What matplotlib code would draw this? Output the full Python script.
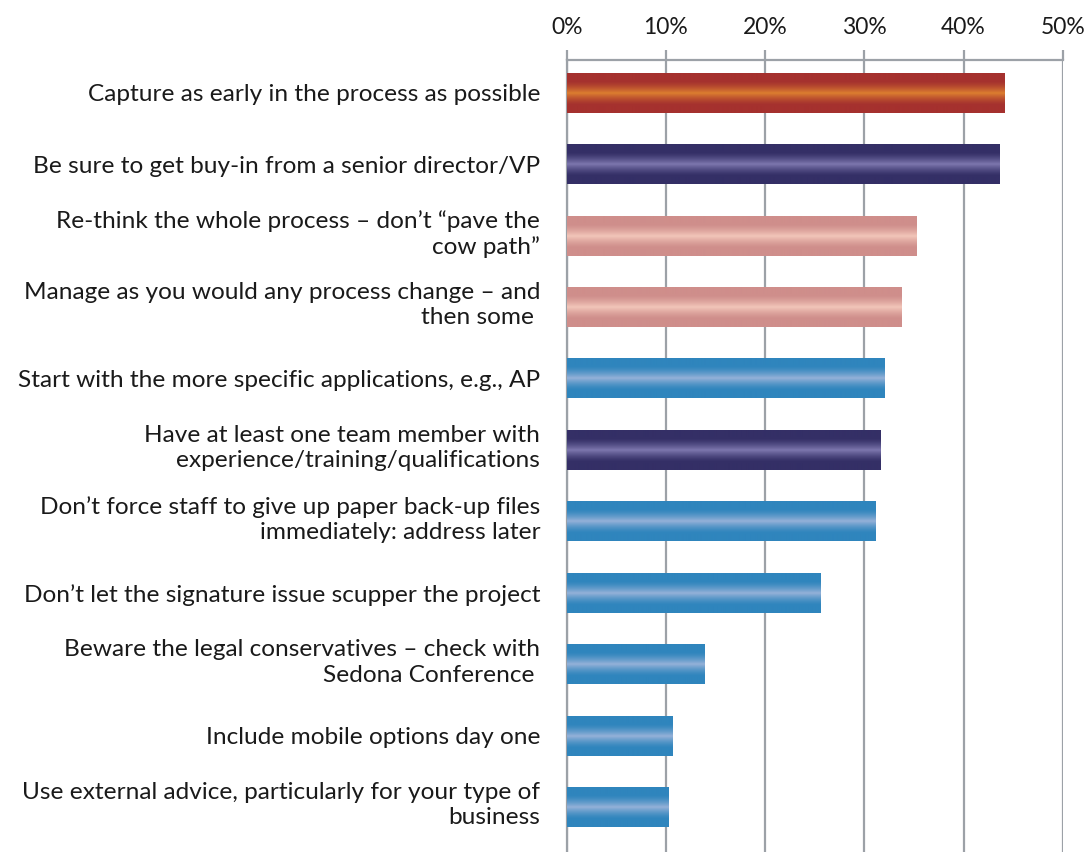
import numpy as np
import matplotlib
matplotlib.use("Agg")
import matplotlib.pyplot as plt
from matplotlib.colors import to_rgb
from matplotlib.ticker import FuncFormatter

plt.rcParams['font.family'] = ['Lato', 'DejaVu Sans']

labels = [
    "Capture as early in the process as possible",
    "Be sure to get buy-in from a senior director/VP",
    "Re-think the whole process \u2013 don\u2019t \u201cpave the\ncow path\u201d",
    "Manage as you would any process change \u2013 and\nthen some ",
    "Start with the more specific applications, e.g., AP",
    "Have at least one team member with\nexperience/training/qualifications",
    "Don\u2019t force staff to give up paper back-up files\nimmediately: address later",
    "Don\u2019t let the signature issue scupper the project",
    "Beware the legal conservatives \u2013 check with\nSedona Conference ",
    "Include mobile options day one",
    "Use external advice, particularly for your type of\nbusiness",
]
values = [44.1, 43.6, 35.2, 33.7, 32.0, 31.6, 31.1, 25.5, 13.9, 10.6, 10.2]
styles = ["red", "navy", "pink", "pink", "blue", "navy", "blue", "blue", "blue", "blue", "blue"]
ticks = [0, 10, 20, 30, 40, 50]

# edge colour, centre highlight colour
palette = {
    "red": ("#a5312e", "#dc7e30"),
    "navy": ("#342f66", "#7d77ae"),
    "pink": ("#cf8e8b", "#f2c6b9"),
    "blue": ("#2f85bd", "#95b1d8"),
}


def gradient(edge, centre, n=200):
    t = np.abs(np.linspace(-1, 1, n))
    w = np.clip(1 - t / 0.6, 0, 1) ** 1.4
    e, c = np.array(to_rgb(edge)), np.array(to_rgb(centre))
    return (e[None, :] * (1 - w[:, None]) + c[None, :] * w[:, None])[:, None, :]


fig = plt.figure(figsize=(10.87, 8.52), dpi=100)
ax = fig.add_axes([0.5213, 0.0, 0.4564, 0.9296])

y = np.arange(len(labels))
bars = ax.barh(y, values, height=0.56, color="none", zorder=3)
for bar, st in zip(bars, styles):
    x0, y0 = bar.get_x(), bar.get_y()
    w, h = bar.get_width(), bar.get_height()
    ax.imshow(gradient(*palette[st]), extent=(x0, x0 + w, y0 + h, y0),
              aspect="auto", interpolation="bilinear", zorder=3)

ax.set_xlim(0, 50)
ax.set_ylim(10.63, -0.46)
ax.set_xticks(ticks)
ax.xaxis.set_major_formatter(FuncFormatter(lambda v, p: f"{v:.0f}%"))
ax.xaxis.tick_top()

# two-line labels sit a little above the bar centre
two_line = np.array(["\n" in s for s in labels])
ax.set_yticks(y - 0.08 * two_line)
ax.set_yticklabels(labels, fontsize=17.6, color="#1a1a1a", linespacing=1.24)

grid_c = "#9ca1a7"
ax.grid(axis="x", color=grid_c, linewidth=1.6, zorder=1)
ax.tick_params(axis="x", colors=grid_c, length=7, width=1.6, pad=9,
               labelsize=16.5, labelcolor="#1a1a1a")
ax.tick_params(axis="y", length=0, pad=19)
for side in ["right", "bottom"]:
    ax.spines[side].set_visible(False)
for side in ["top", "left"]:
    ax.spines[side].set_color(grid_c)
    ax.spines[side].set_linewidth(1.6)

fig.savefig("out.png", dpi=100)
